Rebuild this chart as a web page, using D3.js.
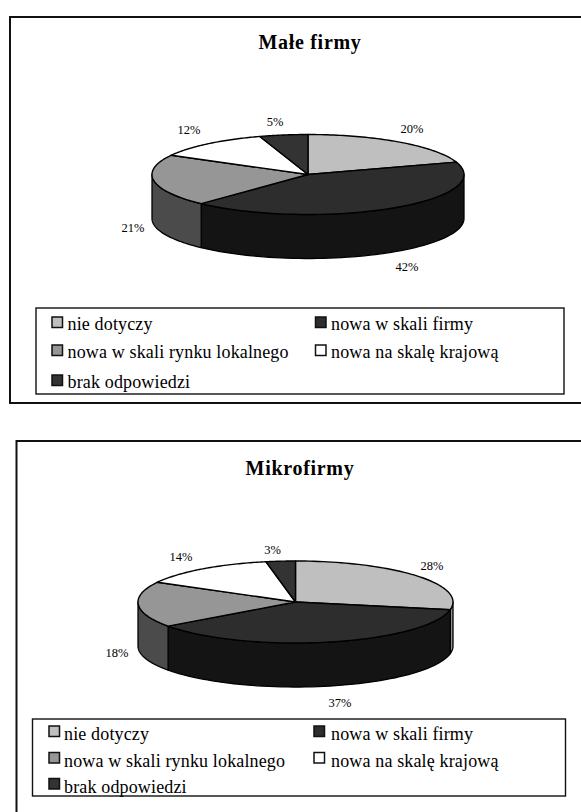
<!DOCTYPE html>
<html lang="pl">
<head>
<meta charset="UTF-8">
<title>Małe firmy, Mikrofirmy</title>
<script src="https://d3js.org/d3.v7.min.js"></script>
<style>
  html, body { margin: 0; padding: 0; background: #fff; overflow: hidden; }
  svg { display: block; }
  text { font-family: "Liberation Serif", serif; fill: #000; }
</style>
</head>
<body>
<div id="chart"></div>
<script>
// data
const categories = ['nie dotyczy', 'nowa w skali firmy', 'nowa w skali rynku lokalnego', 'nowa na skalę krajową', 'brak odpowiedzi'];
const maleValues = [20, 42, 21, 12, 5];
const mikroValues = [28, 37, 18, 14, 3];
const topColors = ['#bfbfbf', '#2d2d2d', '#969696', '#ffffff', '#333333'];
const sideColors = ['#8f8f8f', '#141414', '#4b4b4b', '#bfbfbf', '#262626'];

const svg = d3.select('#chart').append('svg').attr('width', 581).attr('height', 812);

const pie = d3.pie().sort(null).value(d => d);
const HALF = Math.PI / 2;

function drawChart(c) {
  const g = svg.append('g');

  g.append('rect').attr('x', c.frame[0]).attr('y', c.frame[1]).attr('width', c.frame[2]).attr('height', c.frame[3])
    .attr('fill', '#fff').attr('stroke', '#111').attr('stroke-width', 2);

  g.append('text').attr('x', c.titleX).attr('y', c.titleY).attr('text-anchor', 'middle')
    .attr('font-size', 20).attr('font-weight', 'bold').attr('letter-spacing', 0.7).text(c.title);

  // unit circle -> squashed ellipse
  const x = d3.scaleLinear().domain([-1, 1]).range([c.cx - c.rx, c.cx + c.rx]);
  const y = d3.scaleLinear().domain([-1, 1]).range([c.cy - c.ry, c.cy + c.ry]);
  const px = a => x(Math.sin(a));
  const py = a => y(-Math.cos(a));
  const line = d3.line();
  const arcPts = (a0, a1, dy) => d3.range(0, 61).map(i => {
    const a = a0 + (a1 - a0) * i / 60;
    return [px(a), py(a) + dy];
  });

  const slices = pie(c.values);

  // side walls, front half only
  slices.forEach((s, i) => {
    const a0 = Math.max(s.startAngle, HALF), a1 = Math.min(s.endAngle, 3 * HALF);
    if (a1 <= a0) return;
    const pts = arcPts(a0, a1, 0).concat(arcPts(a1, a0, c.depth));
    g.append('path').attr('d', line(pts) + 'Z')
      .attr('fill', sideColors[i]).attr('stroke', '#000').attr('stroke-width', 1.3).attr('stroke-linejoin', 'round');
  });

  // top face
  slices.forEach((s, i) => {
    const pts = [[x(0), y(0)]].concat(arcPts(s.startAngle, s.endAngle, 0));
    g.append('path').attr('d', line(pts) + 'Z')
      .attr('fill', topColors[i]).attr('stroke', '#000').attr('stroke-width', 1.4).attr('stroke-linejoin', 'round');
  });

  // percent labels
  c.values.forEach((v, i) => {
    g.append('text').attr('x', c.labels[i][0]).attr('y', c.labels[i][1]).attr('text-anchor', 'middle')
      .attr('font-size', 12.5).text(v + '%');
  });

  // legend
  g.append('rect').attr('x', c.legend[0]).attr('y', c.legend[1]).attr('width', c.legend[2]).attr('height', c.legend[3])
    .attr('fill', '#fff').attr('stroke', '#111').attr('stroke-width', 1.4);

  categories.forEach((name, i) => {
    const col = i % 2, row = Math.floor(i / 2);
    const sx = c.legendCols[col], base = c.legendRows[row];
    g.append('rect').attr('x', sx).attr('y', base - c.swatchUp).attr('width', 10.5).attr('height', 10.5)
      .attr('fill', topColors[i]).attr('stroke', '#111').attr('stroke-width', 1.5);
    g.append('text').attr('x', c.legendText[col]).attr('y', base)
      .attr('font-size', 18).attr('letter-spacing', 0.15).text(name);
  });
}

drawChart({
  title: 'Małe firmy', values: maleValues,
  frame: [10, 17, 640, 386], titleX: 310, titleY: 49,
  cx: 308, cy: 174.5, rx: 156, ry: 40, depth: 44,
  labels: [[412, 133], [407, 271], [133, 232], [189, 134], [275, 126]],
  legend: [36, 308, 528, 86], legendCols: [52, 315.5], legendText: [67.5, 331], legendRows: [330, 358, 388], swatchUp: 13
});

drawChart({
  title: 'Mikrofirmy', values: mikroValues,
  frame: [16.5, 441, 640, 420], titleX: 300, titleY: 475,
  cx: 295.5, cy: 602, rx: 157.5, ry: 41, depth: 44,
  labels: [[432, 570], [340, 707], [117, 657], [181, 561], [272.5, 554]],
  legend: [32.5, 719, 533, 77], legendCols: [49, 314], legendText: [64, 331], legendRows: [740, 766.5, 792.5], swatchUp: 14
});
</script>
</body>
</html>
